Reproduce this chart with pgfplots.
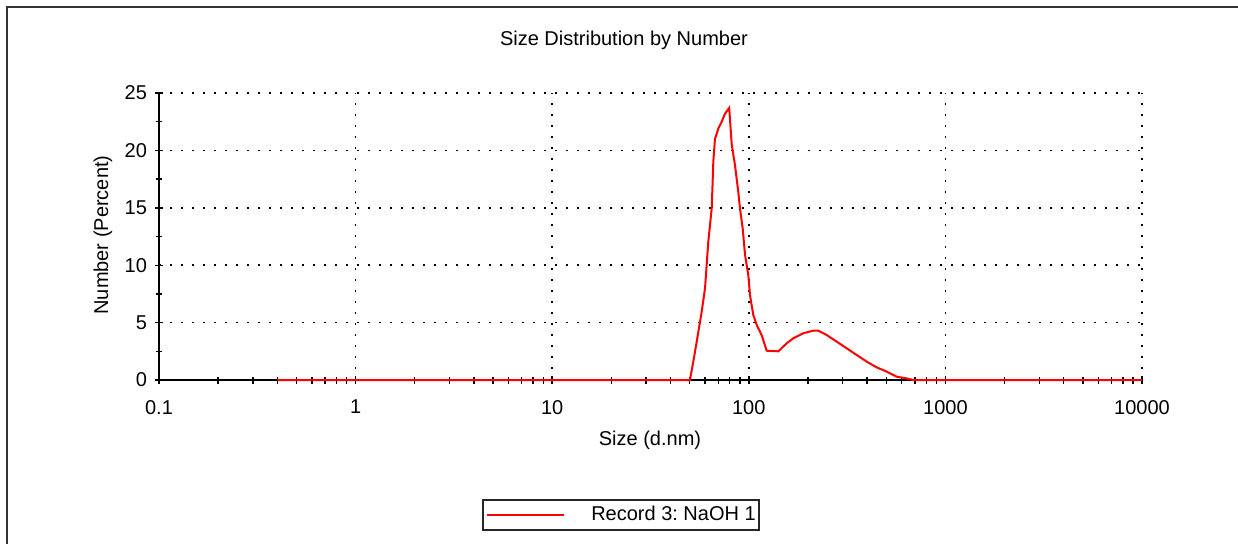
\documentclass[border=0pt]{standalone}
\usepackage{fontspec}
\setmainfont{Liberation Sans}
\usepackage{pgfplots}
\pgfplotsset{compat=1.18}
\begin{document}
\frenchspacing
\begin{tikzpicture}
\useasboundingbox (0,0) rectangle (619pt,271.5pt);
\draw[line width=1pt, black!80] (3.5pt,-2pt) -- (3.5pt,268pt) -- (625pt,268pt);
\begin{axis}[
  at={(79.5pt,81.5pt)}, anchor=south west,
  scale only axis, width=491.5pt, height=143.5pt,
  xmode=log, xmin=0.1, xmax=10000, ymin=0, ymax=25,
  xtick={0.1,1,10,100,1000,10000},
  xticklabels={0.1,1,10,100,1000,10000},
  ytick={0,5,10,15,20,25},
  minor y tick num=1,
  axis lines=left, axis line style={-, line width=1pt, black},
  tick align=center, major tick length=4pt, minor tick length=3.5pt,
  every tick/.style={black, line width=0.7pt},
  grid=major, major grid style={black, line width=0.85pt, dash pattern=on 0.85pt off 4.65pt},
  /pgf/number format/assume math mode=true,
  tick label style={font=\fontsize{10}{12}\selectfont},
  xticklabel style={yshift=-4.5pt},
  yticklabel style={xshift=-0.5pt},
  clip=false,
  title={Size Distribution by Number},
  title style={at={(axis description cs:0.473,1.1428)}, anchor=center},
  xlabel={Size (d.nm)}, xlabel style={at={(axis description cs:0.4995,-0.209)}, anchor=center},
  ylabel={Number (Percent)}, ylabel style={at={(axis description cs:-0.057,0.505)}, anchor=center},
  legend style={at={(axis description cs:0.470,-0.4704)}, anchor=center, draw=black!85, line width=1pt, inner xsep=1.5pt, inner ysep=1pt, nodes={inner xsep=2pt}},
  legend image code/.code={\draw[red, line width=1pt] (0pt,0pt) -- (38.5pt,0pt);},
]
\addplot[red, line width=1pt] coordinates {
(0.4,0) (50.2,0) (52.2,1.6) (54.3,3.3) (57.6,5.95) (59.9,8.0) (62.2,12.0)
(64.8,15.0) (66.0,19.0) (67.3,21.0) (70.0,21.9) (72.8,22.5) (75.7,23.2)
(79.5,23.7) (81.9,20.5) (85.1,18.7) (88.4,16.4) (90.2,14.95) (93.1,13.2)
(95.7,10.9) (99.4,9.15) (101.4,7.4) (105.4,5.66) (109.7,4.8) (116.3,3.9)
(123.3,2.55) (141.3,2.5) (155.9,3.2) (168.4,3.63) (189.3,4.07) (212.9,4.3)
(225.6,4.3) (249.0,3.92) (280.0,3.34) (314.8,2.76) (353.8,2.18) (397.9,1.6)
(447.4,1.1) (502.9,0.73) (565.5,0.29) (635.8,0.14) (686.6,0) (10000,0)
};
\addlegendentry{\hspace*{11pt}Record 3: NaOH 1\hspace*{-2pt}}
\end{axis}
\end{tikzpicture}
\end{document}
